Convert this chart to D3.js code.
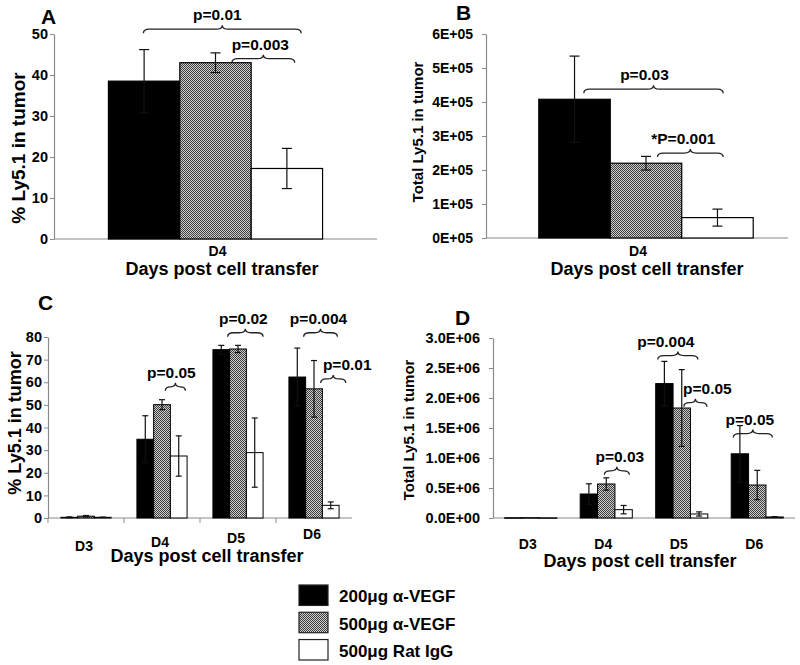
<!DOCTYPE html>
<html><head><meta charset="utf-8">
<script src="https://cdn.jsdelivr.net/npm/d3@7/dist/d3.min.js"></script>
<style>
body{margin:0;background:#fff}
svg{font-family:"Liberation Sans",Arial,Helvetica,sans-serif;font-weight:bold}
</style>
</head><body>
<svg id="chart" width="800" height="665"></svg>
<script>
// ---------------- data ----------------
const seriesNames = ["200μg α-VEGF", "500μg α-VEGF", "500μg Rat IgG"];
const singleDay = ["D4"];
const days = ["D3", "D4", "D5", "D6"];

// Panel A: % Ly5.1 in tumor at D4 (per series)
const pctD4 = [38.5, 43.0, 17.2];
const pctD4Err = [7.7, 2.4, 4.9];
// Panel B: total Ly5.1 at D4 (per series)
const totD4 = [4.08e5, 2.2e5, 0.6e5];
const totD4Err = [1.27e5, 0.2e5, 0.25e5];
// Panel C: % Ly5.1 over days
const pct200 = [0.3, 34.8, 74.4, 62.3];
const pct200Err = [0.2, 10.4, 1.9, 12.8];
const pct500 = [0.8, 50.1, 74.7, 57.1];
const pct500Err = [0.3, 2.2, 1.6, 12.5];
const pctIgG = [0.3, 27.4, 28.9, 5.6];
const pctIgGErr = [0.1, 8.9, 15.3, 1.5];
// Panel D: total Ly5.1 over days
const tot200 = [4e3, 0.40e6, 2.24e6, 1.07e6];
const tot200Err = [0, 0.17e6, 0.37e6, 0.47e6];
const tot500 = [5e3, 0.567e6, 1.833e6, 0.55e6];
const tot500Err = [0, 0.103e6, 0.64e6, 0.244e6];
const totIgG = [3e3, 0.139e6, 0.067e6, 0.017e6];
const totIgGErr = [0, 0.07e6, 0.035e6, 0.006e6];

// tick values
const aTicks = [0, 10, 20, 30, 40, 50];
const bTicks = [0, 1e5, 2e5, 3e5, 4e5, 5e5, 6e5];
const cTicks = [0, 10, 20, 30, 40, 50, 60, 70, 80];
const dTicks = [0, 0.5e6, 1e6, 1.5e6, 2e6, 2.5e6, 3e6];

// significance brackets (span in bar units within a day group, y in data units)
const aBrackets = [
  {day: "D4", from: 0.49, to: 2.70, y: 50.2, label: "p=0.01", dx: -5},
  {day: "D4", from: 1.73, to: 2.61, y: 43.0, label: "p=0.003", dx: -3}
];
const bBrackets = [
  {day: "D4", from: 0.63, to: 2.58, y: 4.26e5, label: "p=0.03", dx: -9},
  {day: "D4", from: 1.66, to: 2.58, y: 2.38e5, label: "*P=0.001", dx: -7}
];
const cBrackets = [
  {day: "D4", from: 1.7, to: 2.9, y: 56.2, label: "p=0.05", dx: -4},
  {day: "D5", from: 0.88, to: 3.0, y: 80.1, label: "p=0.02", dx: -2},
  {day: "D6", from: 0.88, to: 2.9, y: 80.1, label: "p=0.004", dx: -2},
  {day: "D6", from: 1.9, to: 3.4, y: 59.7, label: "p=0.01", dx: 14}
];
const dBrackets = [
  {day: "D4", from: 1.39, to: 2.83, y: 0.72e6, label: "p=0.03", dx: 3},
  {day: "D5", from: 0.12, to: 2.43, y: 2.64e6, label: "p=0.004", dx: -12},
  {day: "D5", from: 1.62, to: 2.95, y: 1.855e6, label: "p=0.05", dx: 12},
  {day: "D6", from: 0.12, to: 2.37, y: 1.34e6, label: "p=0.05", dx: -3}
];

// ---------------- drawing ----------------
const svg = d3.select("#chart");
const defs = svg.append("defs");
const pat = defs.append("pattern").attr("id", "chk")
  .attr("width", 2).attr("height", 2).attr("patternUnits", "userSpaceOnUse");
pat.append("rect").attr("width", 2).attr("height", 2).attr("fill", "#cfcfcf");
pat.append("rect").attr("width", 1).attr("height", 1).attr("fill", "#3c3c3c");
pat.append("rect").attr("x", 1).attr("y", 1).attr("width", 1).attr("height", 1).attr("fill", "#3c3c3c");

const fills = ["#000", "url(#chk)", "#fff"];

function bracePath(x1, x2, yb, h) {
  const xm = (x1 + x2) / 2, ym = yb - h / 2, yt = yb - h;
  const q = Math.min(6, (x2 - x1) / 4);
  return `M${x1},${yb} Q${x1},${ym} ${x1 + q},${ym} L${xm - q},${ym} Q${xm},${ym} ${xm},${yt}` +
         ` Q${xm},${ym} ${xm + q},${ym} L${x2 - q},${ym} Q${x2},${ym} ${x2},${yb}`;
}

function panel(cfg) {
  const g = svg.append("g");
  const x = d3.scaleBand().domain(cfg.cats).range([cfg.x0, cfg.x1]);
  const y = d3.scaleLinear().domain([0, cfg.max]).range([cfg.yBot, cfg.yTop]);
  const gw = x.bandwidth() * cfg.groupFrac;
  const xs = d3.scaleBand().domain([0, 1, 2]).range([0, gw]);
  const bw = xs.bandwidth();
  const groupX = c => x(c) + (x.bandwidth() - gw) / 2 + cfg.shift;

  // y axis
  const ax = d3.axisLeft(y).tickValues(cfg.ticks).tickFormat(cfg.fmt)
    .tickSize(4).tickSizeOuter(0).tickPadding(cfg.pad);
  const ag = g.append("g").attr("transform", `translate(${cfg.x0},0)`).call(ax);
  ag.select(".domain").attr("stroke", "#8a8a8a").attr("stroke-width", 1.2);
  ag.selectAll(".tick line").attr("stroke", "#8a8a8a");
  ag.selectAll(".tick text").attr("fill", "#000").attr("font-size", cfg.tickFont)
    .attr("font-weight", "bold").attr("font-family", "Liberation Sans, Arial, sans-serif");

  // x axis line and boundary ticks
  g.append("line").attr("x1", cfg.x0).attr("x2", cfg.x1).attr("y1", cfg.yBot).attr("y2", cfg.yBot)
    .attr("stroke", "#8a8a8a").attr("stroke-width", 1.2);
  if (cfg.xTicks) {
    cfg.cats.forEach(c => {
      g.append("line").attr("x1", x(c)).attr("x2", x(c)).attr("y1", cfg.yBot).attr("y2", cfg.yBot + 5)
        .attr("stroke", "#8a8a8a");
    });
  }

  // bars + error bars
  cfg.series.forEach((vals, si) => {
    cfg.cats.forEach((c, ci) => {
      const v = vals[ci], e = cfg.errs[si][ci];
      const bx = groupX(c) + xs(si);
      g.append("rect").attr("x", bx).attr("y", y(v)).attr("width", bw)
        .attr("height", Math.max(0.5, cfg.yBot - y(v)))
        .attr("fill", fills[si]).attr("stroke", "#000").attr("stroke-width", cfg.barStroke);
      if (e > 0) {
        const cx = bx + bw / 2, cw = cfg.cap;
        const col = "#111";
        g.append("line").attr("x1", cx).attr("x2", cx).attr("y1", y(v + e)).attr("y2", y(Math.max(0, v - e)))
          .attr("stroke", col).attr("stroke-width", 1.2);
        g.append("line").attr("x1", cx - cw).attr("x2", cx + cw).attr("y1", y(v + e)).attr("y2", y(v + e))
          .attr("stroke", col).attr("stroke-width", 1.2);
        g.append("line").attr("x1", cx - cw).attr("x2", cx + cw).attr("y1", y(v - e)).attr("y2", y(v - e))
          .attr("stroke", col).attr("stroke-width", 1.2);
      }
    });
  });

  // brackets
  cfg.brackets.forEach(b => {
    const x1 = groupX(b.day) + b.from * bw, x2 = groupX(b.day) + b.to * bw;
    const yb = y(b.y);
    g.append("path").attr("d", bracePath(x1, x2, yb, 8))
      .attr("fill", "none").attr("stroke", "#222").attr("stroke-width", 1.3);
    g.append("text").attr("x", (x1 + x2) / 2 + (b.dx || 0)).attr("y", yb - 13)
      .attr("text-anchor", "middle").attr("font-size", 15.5).text(b.label);
  });

  // category labels
  cfg.cats.forEach((c, i) => {
    g.append("text").attr("x", x(c) + x.bandwidth() / 2 + cfg.catDx)
      .attr("y", cfg.catY - i * cfg.catTilt)
      .attr("text-anchor", "middle").attr("font-size", 14).text(c);
  });

  // titles
  g.append("text").attr("x", cfg.titleX).attr("y", cfg.titleY).attr("text-anchor", "middle")
    .attr("font-size", 18).text("Days post cell transfer");
  g.append("text").attr("transform", `translate(${cfg.ylx},${cfg.yly}) rotate(-90)`)
    .attr("text-anchor", "middle").attr("font-size", cfg.ylFont).text(cfg.ylabel);
  g.append("text").attr("x", cfg.letterX).attr("y", cfg.letterY).attr("font-size", 21).text(cfg.letter);
}

const fmtB = v => `${v / 1e5}E+05`;
const fmtD = v => v === 0 ? "0.0E+00" : `${(v / 1e6).toFixed(1)}E+06`;

panel({cats: singleDay, series: pctD4.map(v => [v]), errs: pctD4Err.map(v => [v]),
  x0: 54, x1: 377, yTop: 34, yBot: 239, max: 50, ticks: aTicks, fmt: d3.format("d"), pad: 2, tickFont: 14.5,
  groupFrac: 0.663, shift: 0, xTicks: false, barStroke: 1.2, cap: 5, brackets: aBrackets,
  catY: 256, catTilt: 0, catDx: 2, titleX: 222, titleY: 275,
  ylabel: "% Ly5.1 in tumor", ylx: 25, yly: 148, ylFont: 19,
  letter: "A", letterX: 41, letterY: 24});

panel({cats: singleDay, series: totD4.map(v => [v]), errs: totD4Err.map(v => [v]),
  x0: 486, x1: 788, yTop: 34, yBot: 238, max: 6e5, ticks: bTicks, fmt: fmtB, pad: 9, tickFont: 14,
  groupFrac: 0.71, shift: 9, xTicks: false, barStroke: 1.2, cap: 5, brackets: bBrackets,
  catY: 256, catTilt: 0, catDx: 1, titleX: 647, titleY: 275,
  ylabel: "Total Ly5.1 in tumor", ylx: 423, yly: 132, ylFont: 15,
  letter: "B", letterX: 456, letterY: 20});

panel({cats: days, series: [pct200, pct500, pctIgG], errs: [pct200Err, pct500Err, pctIgGErr],
  x0: 48, x1: 352, yTop: 337, yBot: 518, max: 80, ticks: cTicks, fmt: d3.format("d"), pad: 2, tickFont: 14.5,
  groupFrac: 0.66, shift: 0, xTicks: true, barStroke: 1, cap: 3, brackets: cBrackets,
  catY: 551, catTilt: 4, catDx: -2, titleX: 207, titleY: 562,
  ylabel: "% Ly5.1 in tumor", ylx: 21, yly: 423, ylFont: 18,
  letter: "C", letterX: 38, letterY: 310});

panel({cats: days, series: [tot200, tot500, totIgG], errs: [tot200Err, tot500Err, totIgGErr],
  x0: 493, x1: 795, yTop: 338, yBot: 518, max: 3e6, ticks: dTicks, fmt: fmtD, pad: 9, tickFont: 14.5,
  groupFrac: 0.69, shift: 0, xTicks: false, barStroke: 1, cap: 3, brackets: dBrackets,
  catY: 549, catTilt: 0, catDx: -3, titleX: 640, titleY: 567,
  ylabel: "Total Ly5.1 in tumor", ylx: 414, yly: 430, ylFont: 15,
  letter: "D", letterX: 455, letterY: 325});

// legend
const lg = svg.append("g");
const ly = d3.scaleBand().domain(seriesNames).range([585, 660]).paddingInner(0.25);
seriesNames.forEach((n, i) => {
  lg.append("rect").attr("x", 299).attr("y", ly(n)).attr("width", 29).attr("height", ly.bandwidth())
    .attr("fill", fills[i]).attr("stroke", "#222").attr("stroke-width", 1.2);
  lg.append("text").attr("x", 339).attr("y", ly(n) + ly.bandwidth() - 3).attr("font-size", 17).text(n);
});
</script>
</body></html>
